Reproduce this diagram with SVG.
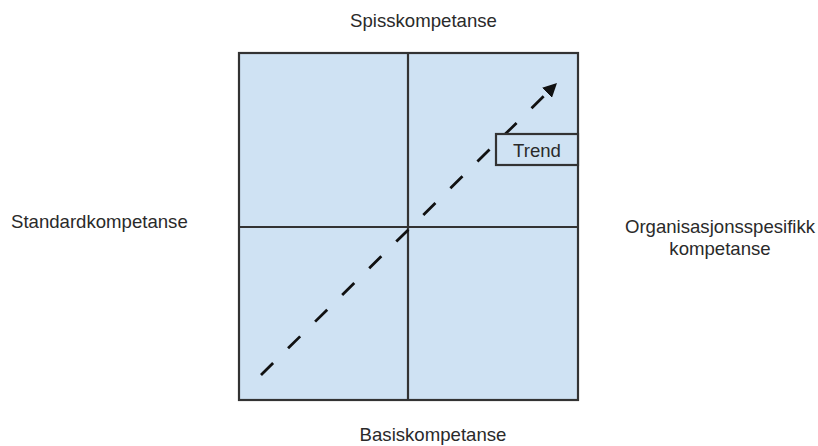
<svg xmlns="http://www.w3.org/2000/svg" width="818" height="446" viewBox="0 0 818 446">
<style>
text{font-family:"Liberation Sans",Arial,sans-serif;font-size:18.6px;fill:#2a2a2a}
.ln{stroke:#333;stroke-width:2.2}
.box{fill:#cfe2f3}
</style>
<defs>
<marker id="ah" viewBox="0 0 10 10" refX="9" refY="5" markerWidth="5" markerHeight="5" orient="auto" markerUnits="strokeWidth">
<path d="M0,0 L10,5 L0,10 z" fill="#111"/>
</marker>
</defs>
<rect width="818" height="446" fill="#fff"/>
<g id="matrix">
<rect x="239" y="53" width="339" height="347" class="ln box"/>
<line x1="408" y1="53" x2="408" y2="400" class="ln"/>
<line x1="239" y1="227" x2="578" y2="227" class="ln"/>
</g>
<g id="connectors">
<line x1="261" y1="375" x2="556" y2="84" stroke="#111" stroke-width="2.8" stroke-dasharray="17 21" marker-end="url(#ah)"/>
</g>
<g id="trend">
<rect x="496" y="134" width="82" height="31" class="ln box"/>
<text x="537" y="157" text-anchor="middle">Trend</text>
</g>
<g id="top"><text x="423.5" y="27" text-anchor="middle">Spisskompetanse</text></g>
<g id="bottom"><text x="433" y="441" text-anchor="middle">Basiskompetanse</text></g>
<g id="left"><text x="11" y="228">Standardkompetanse</text></g>
<g id="right">
<text x="720" y="233" text-anchor="middle">Organisasjonsspesifikk</text>
<text x="720" y="255" text-anchor="middle">kompetanse</text>
</g>
</svg>
